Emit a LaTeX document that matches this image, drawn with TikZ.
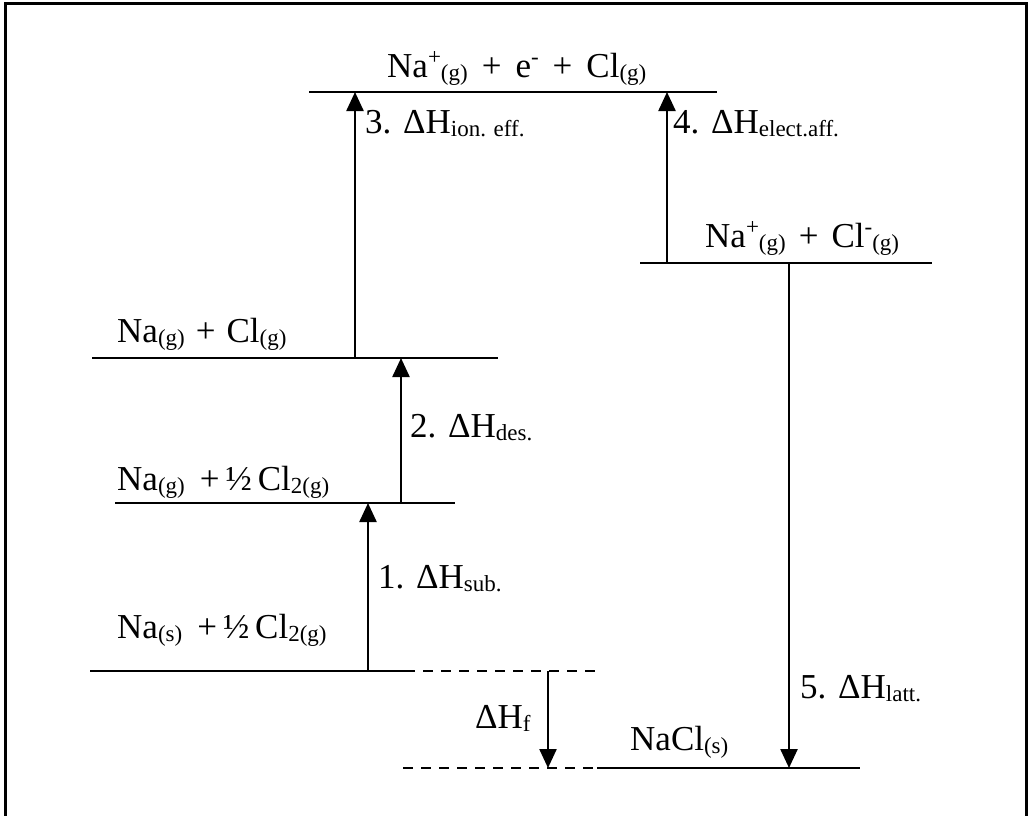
\documentclass[tikz,border=0pt]{standalone}
\usepackage{fontspec}
\setmainfont{Liberation Serif}
\usetikzlibrary{arrows.meta}

\newcommand{\lo}[1]{\raisebox{-0.1em}{\fontsize{23}{23}\selectfont #1}}
\newcommand{\hi}[1]{\raisebox{0.36em}{\fontsize{23}{23}\selectfont #1}}

\begin{document}
\begin{tikzpicture}[x=1pt, y=-1pt,
    level/.style={line width=2.4pt},
    guide/.style={line width=1.8pt, dash pattern=on 10pt off 8pt},
    jump/.style={line width=2.4pt, -{Triangle[length=19pt,width=17pt]}},
    chem/.style={anchor=base west, inner sep=0pt, font=\fontsize{35}{42}\selectfont}]
    \useasboundingbox (0,0) rectangle (1032,815);
    \draw[line width=3pt] (5,3) rectangle (1026,840);

    % energy levels
    \coordinate (ion-l) at (309,92);  \coordinate (ion-r) at (717,92);
    \coordinate (anion-l) at (640,263); \coordinate (anion-r) at (932,263);
    \coordinate (atom-l) at (92,358); \coordinate (atom-r) at (498,358);
    \coordinate (gas-l) at (115,503); \coordinate (gas-r) at (455,503);
    \coordinate (elem-l) at (90,671); \coordinate (elem-r) at (405,671);
    \coordinate (elem-d) at (595,671);
    \coordinate (salt-l) at (597,768); \coordinate (salt-r) at (860,768);
    \coordinate (salt-d) at (403,768);
    \draw[level] (ion-l) -- (ion-r);
    \draw[level] (anion-l) -- (anion-r);
    \draw[level] (atom-l) -- (atom-r);
    \draw[level] (gas-l) -- (gas-r);
    \draw[level] (elem-l) -- (elem-r);
    \draw[level] (salt-l) -- (salt-r);
    \draw[guide] (elem-r) -- (elem-d);
    \draw[guide] (salt-d) -- (salt-l);

    % species
    \node[chem] (ion) at (387,77) {Na\hi{+}\lo{(g)}\hspace{14pt}+\hspace{14pt}e\hi{-}\hspace{14pt}+\hspace{14pt}Cl\lo{(g)}};
    \node[chem] (anion) at (705,247) {Na\hi{+}\lo{(g)}\hspace{13pt}+\hspace{13pt}Cl\hi{-}\lo{(g)}};
    \node[chem] (atom) at (117,342) {Na\lo{(g)}\hspace{11pt}+\hspace{11pt}Cl\lo{(g)}};
    \node[chem] (gas) at (117,490) {Na\lo{(g)}\hspace{15pt}+\hspace{6pt}½\hspace{6pt}Cl\lo{2(g)}};
    \node[chem] (elem) at (117,638) {Na\lo{(s)}\hspace{15pt}+\hspace{6pt}½\hspace{6pt}Cl\lo{2(g)}};
    \node[chem] (salt) at (630,750) {NaCl\lo{(s)}};

    % steps of the cycle
    \coordinate (s1) at (368,671); \coordinate (s2) at (401,503);
    \coordinate (s3) at (355,358); \coordinate (s4) at (667,263);
    \coordinate (s5) at (789,263); \coordinate (sf) at (548,671);
    \draw[jump] (s1) -- (s1 |- gas-l);
    \draw[jump] (s2) -- (s2 |- atom-l);
    \draw[jump] (s3) -- (s3 |- ion-l);
    \draw[jump] (s4) -- (s4 |- ion-l);
    \draw[jump] (s5) -- (s5 |- salt-l);
    \draw[jump] (sf) -- (sf |- salt-l);

    \node[chem] (d1) at (378,588) {1. ΔH\lo{sub.}};
    \node[chem] (d2) at (410,437) {2. ΔH\lo{des.}};
    \node[chem] (d3) at (365,133) {3. ΔH\lo{ion. eff.}};
    \node[chem] (d4) at (673,133) {4. ΔH\lo{elect.aff.}};
    \node[chem] (d5) at (800,698) {5. ΔH\lo{latt.}};
    \node[chem] (df) at (475,728) {ΔH\lo{f}};
\end{tikzpicture}
\end{document}
